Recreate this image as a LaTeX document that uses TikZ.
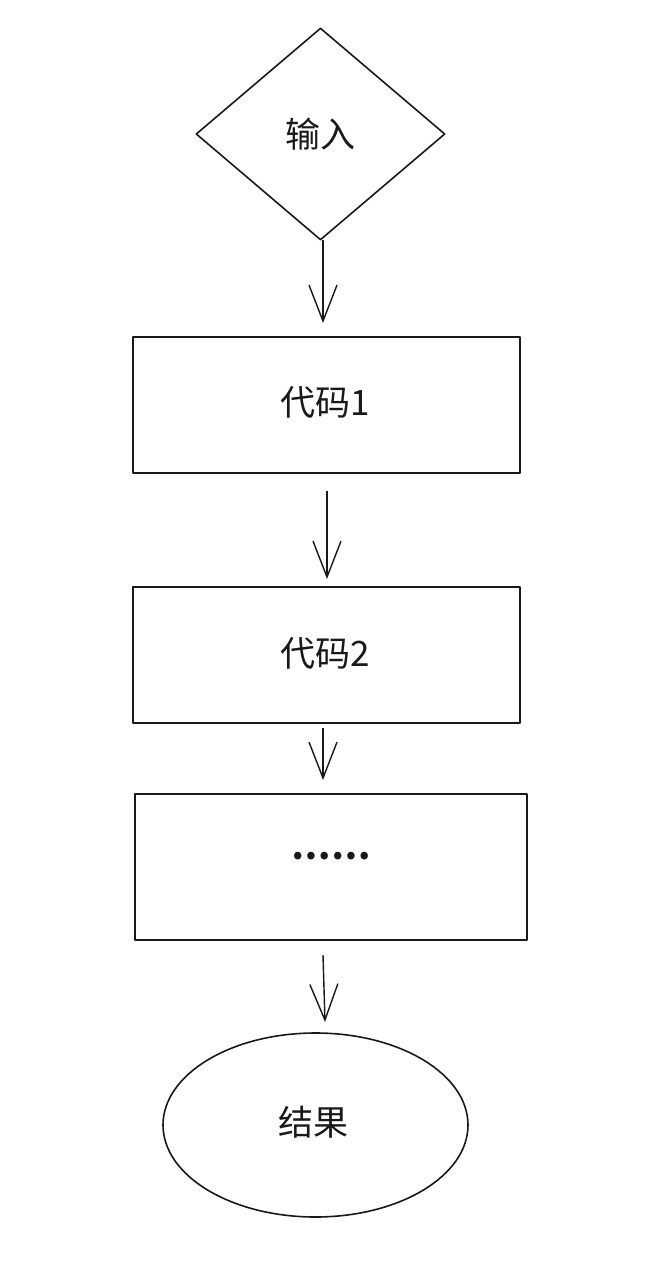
\documentclass[tikz,border=0pt]{standalone}
\usepackage{fontspec}
\newfontfamily\cjk{Noto Sans CJK SC}
\usetikzlibrary{shapes.geometric,arrows.meta}
\begin{document}
\begin{tikzpicture}[x=1pt,y=-1pt,
  sketch/.style={draw=black!90,line width=1.6pt,line join=round},
  lbl/.style={font=\cjk\fontsize{35}{40}\selectfont,text=black!90},
  flow/.style={draw=black!90,line width=1.4pt,-{Straight Barb[length=36pt,width=28pt,line width=1.4pt]}},
  boxnode/.style={sketch,rectangle,inner sep=0pt},
]
\useasboundingbox (0,0) rectangle (661,1262);
\node[sketch,diamond,minimum width=249pt,minimum height=212pt,inner sep=0pt] (in) at (320.5,134) {};
\node[lbl] at (320,134) {输入};
\node[boxnode,minimum width=387pt,minimum height=136pt] (c1) at (326.5,405) {};
\node[lbl] at (325,402) {代码1};
\node[boxnode,minimum width=387pt,minimum height=136pt] (c2) at (326.5,655) {};
\node[lbl] at (325,653) {代码2};
\node[boxnode,minimum width=392pt,minimum height=146pt] (c3) at (331,867) {};
\node[lbl,font=\cjk\bfseries\fontsize{35}{40}\selectfont] at (331,856) {……};
\node[sketch,ellipse,minimum width=305pt,minimum height=184pt,inner sep=0pt] (res) at (315.5,1125) {};
\node[lbl] at (313,1122) {结果};
\coordinate (a1s) at (323,240); \coordinate (a1e) at (323,323);
\coordinate (a2s) at (327,491); \coordinate (a2e) at (327,579);
\coordinate (a3s) at (323,728); \coordinate (a3e) at (323,780);
\coordinate (a4s) at (323,955); \coordinate (a4e) at (325,1022);
\draw[flow] (a1s) -- (a1e);
\draw[flow] (a2s) -- (a2e);
\draw[flow] (a3s) -- (a3e);
\draw[flow] (a4s) -- (a4e);
\end{tikzpicture}
\end{document}
